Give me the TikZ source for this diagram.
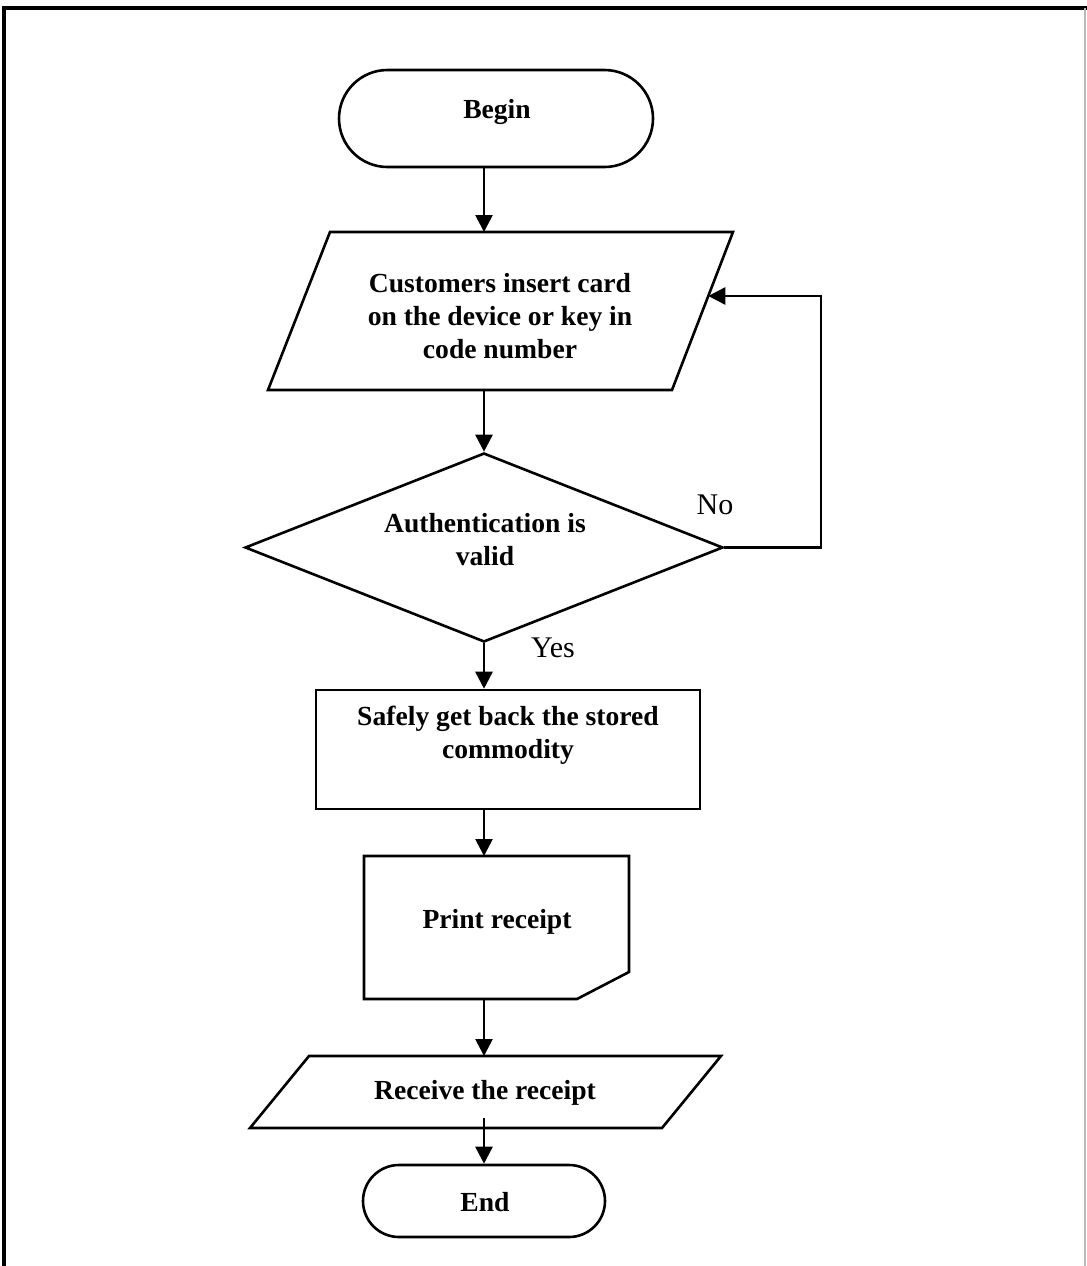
\documentclass[tikz,border=0pt]{standalone}
\usepackage{fontspec}
\setmainfont{Liberation Serif}
\usetikzlibrary{arrows.meta,shapes.geometric,shapes.misc,calc}

\begin{document}
\begin{tikzpicture}[x=0.5pt,y=-0.5pt,
  flow/.style={line width=1.3pt},
  arr/.style={line width=1.3pt,-{Triangle[length=8.5pt,width=8.5pt]}},
  lbl/.style={font=\fontsize{13.8}{16.5}\selectfont\bfseries, align=center, inner sep=0pt},
  yn/.style={font=\fontsize{15}{18}\selectfont, inner sep=0pt},
  terminal/.style={draw, line width=1.3pt, rounded rectangle, inner sep=0pt},
  process/.style={draw, line width=1.3pt, rectangle, inner sep=0pt},
  decision/.style={draw, line width=1.3pt, diamond, inner sep=0pt}
]
\useasboundingbox (0,0) rectangle (1087,1266);

% page frame
\draw[line width=1.6pt] (4,1266) -- (4,8) -- (1087,8);
\draw[gray!55, line width=0.6pt] (1085,8) -- (1085,1266);

% start
\node[terminal, minimum width=157pt, minimum height=48.5pt] (begin) at (496,118.5) {};
\node[lbl] (begintext) at (497,112) {Begin};

% input: card or code
\coordinate (p1a) at (330,232);
\coordinate (p1b) at (733,232);
\coordinate (p1c) at (672,390);
\coordinate (p1d) at (268,390);
\draw[flow] (p1a) -- (p1b) -- (p1c) -- (p1d) -- cycle;
\node[lbl] (insert) at (500,316) {Customers insert card\\on the device or key in\\code number};
\coordinate (p1top) at (484,232);
\coordinate (p1bot) at (484,390);

% decision
\node[decision, minimum width=239pt, minimum height=94.5pt, aspect=2.53] (auth) at (484,547.5) {};
\node[lbl] (authtext) at (485,540) {Authentication is\\valid};

% retrieve commodity
\node[process, minimum width=192pt, minimum height=59.5pt] (fetch) at (508,749.5) {};
\node[lbl] (fetchtext) at (508,735) {Safely get back the stored\\commodity};

% print receipt (document with cut corner)
\coordinate (pr1) at (364,856);
\coordinate (pr2) at (629,856);
\coordinate (pr3) at (629,972);
\coordinate (pr4) at (577,999);
\coordinate (pr5) at (364,999);
\draw[flow] (pr1) -- (pr2) -- (pr3) -- (pr4) -- (pr5) -- cycle;
\node[lbl] (printtext) at (497,922) {Print receipt};
\coordinate (prtop) at (484,856);
\coordinate (prbot) at (484,999);

% output: receive receipt
\coordinate (p2a) at (309,1056);
\coordinate (p2b) at (721,1056);
\coordinate (p2c) at (662,1128);
\coordinate (p2d) at (250,1128);
\draw[flow] (p2a) -- (p2b) -- (p2c) -- (p2d) -- cycle;
\node[lbl] (recvtext) at (485,1093) {Receive the receipt};
\coordinate (p2top) at (484,1056);
\coordinate (p2inner) at (484,1118);

% end
\node[terminal, minimum width=121pt, minimum height=36pt] (end) at (484,1201) {};
\node[lbl] (endtext) at (485,1202) {End};

% connectors
\draw[arr] (begin.south -| p1top) -- (p1top);
\draw[arr] (p1bot) -- (auth.north);
\draw[arr] (auth.south) -- (auth.south |- fetch.north);
\draw[arr] (auth.south |- fetch.south) -- (prtop);
\draw[arr] (prbot) -- (p2top);
\draw[arr] (p2inner) -- (end.north);

% loop back when authentication fails
\coordinate (loopin) at ($(p1b)!0.405!(p1c)$);
\coordinate (loopx) at (821,400);
\draw[arr] (auth.east) -- (auth.east -| loopx) -- (loopin -| loopx) -- (loopin);

% branch labels
\node[yn] (no) at (715,505) {No};
\node[yn] (yes) at (553,648) {Yes};
\end{tikzpicture}
\end{document}
